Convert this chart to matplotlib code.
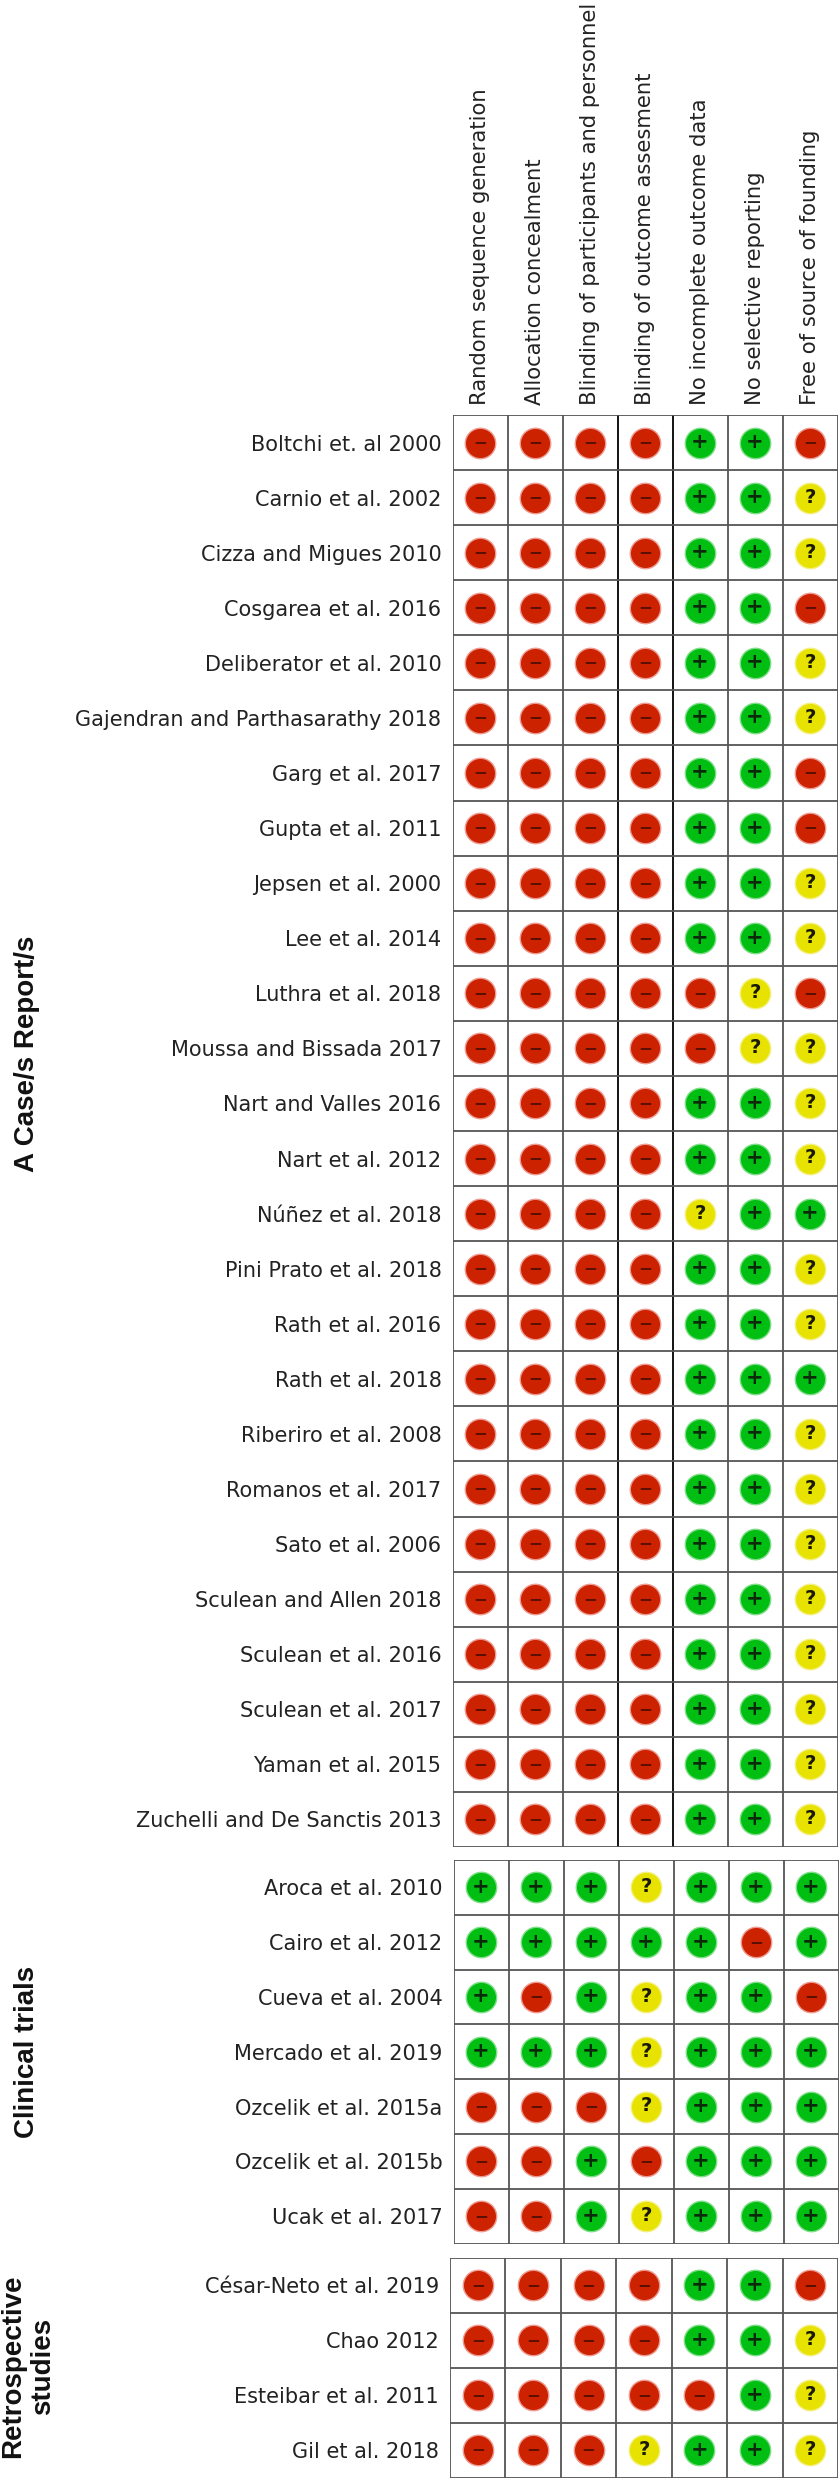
import numpy as np
import matplotlib
matplotlib.use("Agg")
import matplotlib.pyplot as plt

W, H = 839, 2480

domains = [
    "Random sequence generation",
    "Allocation concealment",
    "Blinding of participants and personnel",
    "Blinding of outcome assesment",
    "No incomplete outcome data",
    "No selective reporting",
    "Free of source of founding",
]

case_studies = [
    "Boltchi et. al 2000", "Carnio et al. 2002", "Cizza and Migues 2010",
    "Cosgarea et al. 2016", "Deliberator et al. 2010",
    "Gajendran and Parthasarathy 2018", "Garg et al. 2017", "Gupta et al. 2011",
    "Jepsen et al. 2000", "Lee et al. 2014", "Luthra et al. 2018",
    "Moussa and Bissada 2017", "Nart and Valles 2016", "Nart et al. 2012",
    "Núñez et al. 2018", "Pini Prato et al. 2018", "Rath et al. 2016",
    "Rath et al. 2018", "Riberiro et al. 2008", "Romanos et al. 2017",
    "Sato et al. 2006", "Sculean and Allen 2018", "Sculean et al. 2016",
    "Sculean et al. 2017", "Yaman et al. 2015", "Zuchelli and De Sanctis 2013",
]
case_ratings = [
    "----++-", "----++?", "----++?", "----++-", "----++?",
    "----++?", "----++-", "----++-", "----++?", "----++?",
    "-----?-", "-----??", "----++?", "----++?", "----?++",
    "----++?", "----++?", "----+++", "----++?", "----++?",
    "----++?", "----++?", "----++?", "----++?", "----++?",
    "----++?",
]

trial_studies = [
    "Aroca et al. 2010", "Cairo et al. 2012", "Cueva et al. 2004",
    "Mercado et al. 2019", "Ozcelik et al. 2015a", "Ozcelik et al. 2015b",
    "Ucak et al. 2017",
]
trial_ratings = ["+++?+++", "+++++-+", "+-+?++-", "+++?+++", "---?+++", "--+-+++", "--+?+++"]

retro_studies = [
    "César-Neto et al. 2019", "Chao 2012", "Esteibar et al. 2011", "Gil et al. 2018",
]
retro_ratings = ["----++-", "----++?", "-----+?", "---?++?"]

colors = {"-": "#CC2200", "+": "#00BE12", "?": "#E8E200"}
halos = {"-": "#EE9A90", "+": "#80DE88", "?": "#F4F080"}
glyphs = {"-": "\u2212", "+": "+", "?": "?"}
glyph_colors = {"-": "#5A1000", "+": "#0A2A0A", "?": "#1A1A00"}
glyph_sizes = {"-": 12, "+": 15, "?": 14}


def draw_panel(fig, box, studies, ratings, show_domains=False, dark_cols=()):
    left, top, right, bottom = box
    ax = fig.add_axes([left / W, 1 - bottom / H, (right - left) / W, (bottom - top) / H])
    ax.set_xlim(0, len(domains))
    ax.set_ylim(len(studies), 0)

    for c in range(len(domains) + 1):
        ax.axvline(c, color="black" if c in dark_cols else "#555555", lw=1.3, zorder=1)
    for r in range(len(studies) + 1):
        ax.axhline(r, color="#555555", lw=1.3, zorder=1)

    for r, rating in enumerate(ratings):
        for c, mark in enumerate(rating):
            ax.scatter(c + 0.5, r + 0.5, s=480, color=colors[mark], edgecolors=halos[mark],
                       linewidths=1.0, zorder=2)
            ax.text(c + 0.5, r + 0.49, glyphs[mark], color=glyph_colors[mark], ha="center",
                    va="center", fontsize=glyph_sizes[mark], fontweight="bold", zorder=3)

    ax.set_yticks(np.arange(len(studies)) + 0.5)
    ax.set_yticklabels(studies, fontsize=15, color="#222222")
    ax.tick_params(axis="y", length=0, pad=8)

    if show_domains:
        ax.xaxis.tick_top()
        ax.set_xticks(np.arange(len(domains)) + 0.5)
        ax.set_xticklabels(domains, rotation=90, fontsize=15.2, color="#222222")
        ax.tick_params(axis="x", length=0, pad=7)
    else:
        ax.set_xticks([])

    for spine in ax.spines.values():
        spine.set_visible(False)
    return ax


fig = plt.figure(figsize=(W / 100, H / 100), dpi=100)

draw_panel(fig, (452.5, 415, 837.5, 1847), case_studies, case_ratings, show_domains=True, dark_cols=(3, 4))
draw_panel(fig, (453.5, 1860, 838.5, 2243.5), trial_studies, trial_ratings)
draw_panel(fig, (450, 2258, 838, 2477.5), retro_studies, retro_ratings)

group_font = dict(family="Liberation Sans", fontweight="bold", fontsize=20, rotation=90,
                  ha="center", va="center", multialignment="center", color="#111111")
fig.text(27 / W, 1 - 1054 / H, "A Case/s Report/s", **group_font)
fig.text(27 / W, 1 - 2052 / H, "Clinical trials", **group_font)
fig.text(28 / W, 1 - 2366 / H, "Retrospective\nstudies", **group_font)

plt.savefig("out.png", dpi=100)
